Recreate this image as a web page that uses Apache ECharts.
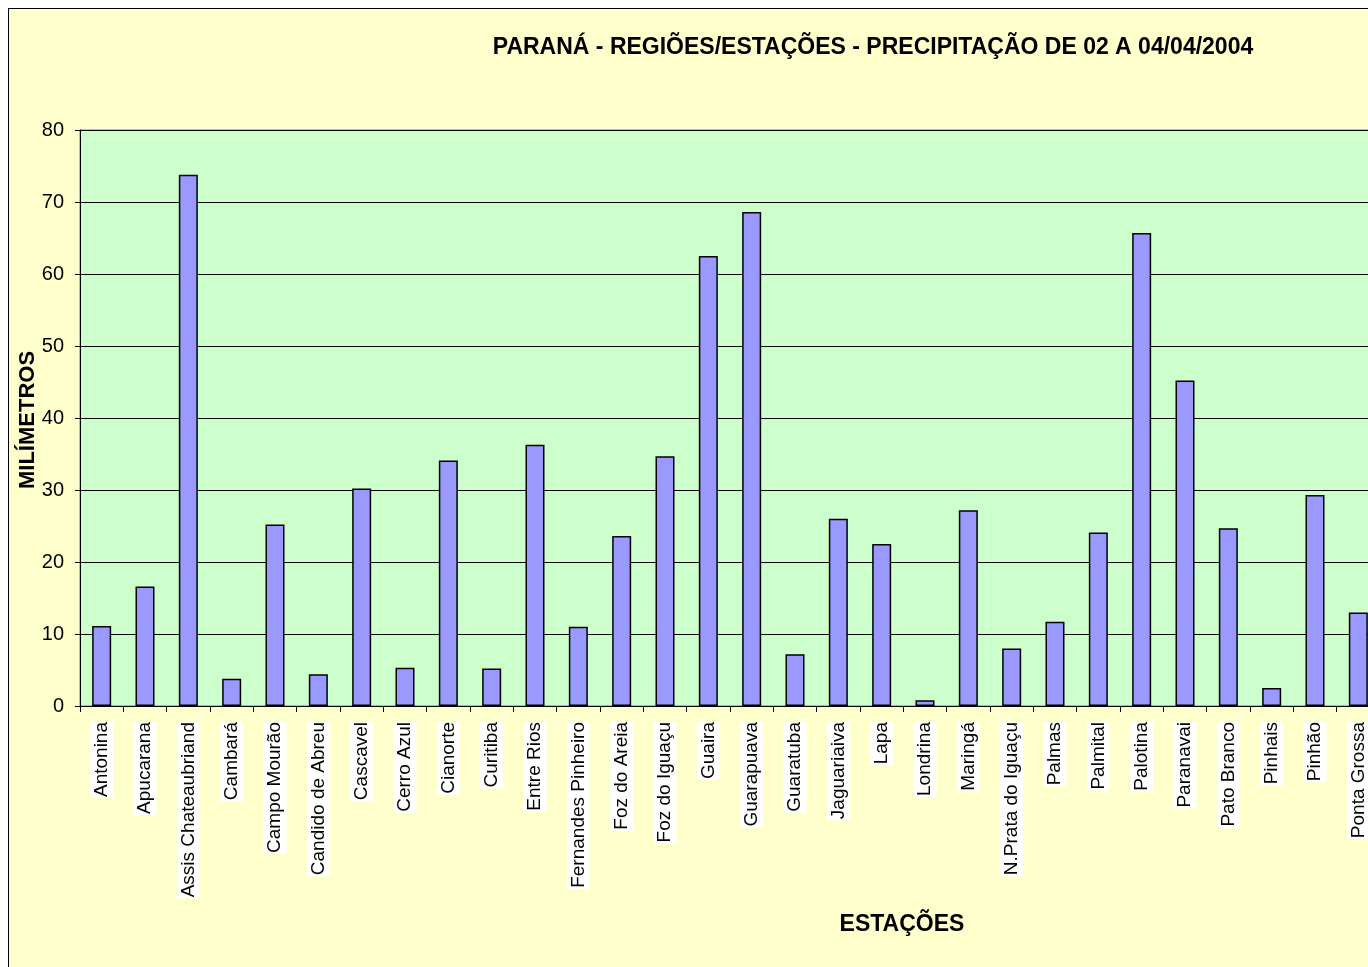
<!DOCTYPE html>
<html>
<head>
<meta charset="utf-8">
<script src="https://cdn.jsdelivr.net/npm/echarts@6/dist/echarts.min.js"></script>
<style>
  html, body { margin: 0; padding: 0; background: #ffffff; overflow: hidden; width: 1368px; height: 967px; }
  #frame { position: absolute; left: 8px; top: 8px; width: 1400px; height: 1000px; border: 1px solid #000; background: #FFFFCC; }
  #chart { width: 1400px; height: 1000px; }
</style>
</head>
<body>
<div id="frame"><div id="chart"></div></div>
<script>
const titleText = 'PARANÁ - REGIÕES/ESTAÇÕES - PRECIPITAÇÃO DE 02 A 04/04/2004';
const yAxisTitle = 'MILÍMETROS';
const xAxisTitle = 'ESTAÇÕES';
const stations = ['Antonina', 'Apucarana', 'Assis Chateaubriand', 'Cambará', 'Campo Mourão', 'Candido de Abreu',
  'Cascavel', 'Cerro Azul', 'Cianorte', 'Curitiba', 'Entre Rios', 'Fernandes Pinheiro', 'Foz do Areia',
  'Foz do Iguaçu', 'Guaira', 'Guarapuava', 'Guaratuba', 'Jaguariaiva', 'Lapa', 'Londrina', 'Maringá',
  'N.Prata do Iguaçu', 'Palmas', 'Palmital', 'Palotina', 'Paranavai', 'Pato Branco', 'Pinhais', 'Pinhão',
  'Ponta Grossa'];
const precipitation = [11.1, 16.6, 73.8, 3.8, 25.2, 4.4,
  30.2, 5.3, 34.1, 5.2, 36.3, 11.0, 23.6,
  34.7, 62.5, 68.6, 7.2, 26.0, 22.5, 0.8, 27.2,
  8.0, 11.7, 24.1, 65.7, 45.2, 24.7, 2.5, 29.3,
  13.0];
const yMin = 0, yMax = 80, yStep = 10;

const chart = echarts.init(document.getElementById('chart'), null, { renderer: 'canvas' });
const F = '"Liberation Sans", Arial, sans-serif';
chart.setOption({
  animation: false,
  backgroundColor: '#FFFFCC',
  grid: {
    left: 71, top: 121, height: 576, width: 1300,
    show: true, backgroundColor: '#CCFFCC', borderColor: '#808080', borderWidth: 1
  },
  xAxis: {
    type: 'category',
    data: stations,
    boundaryGap: true,
    axisLine: { show: true, lineStyle: { color: '#000', width: 1 } },
    axisTick: { show: true, interval: 0, length: 6, lineStyle: { color: '#000' } },
    axisLabel: {
      interval: 0, rotate: 90, margin: 16,
      color: '#000', fontFamily: F, fontSize: 19,
      backgroundColor: '#ffffff', padding: [2, 0, 2, 1]
    },
    splitLine: { show: false }
  },
  yAxis: {
    type: 'value',
    min: yMin, max: yMax, interval: yStep,
    axisLine: { show: true, lineStyle: { color: '#000', width: 1 } },
    axisTick: { show: true, length: 5, lineStyle: { color: '#000' } },
    axisLabel: { color: '#000', fontFamily: F, fontSize: 20, margin: 16 },
    splitLine: { show: true, lineStyle: { color: '#000', width: 1 } }
  },
  series: [{
    type: 'bar',
    data: precipitation,
    barWidth: 19,
    itemStyle: { color: '#9999FF', borderColor: '#000', borderWidth: 1.5 }
  }],
  graphic: [
    { type: 'text', x: 864, y: 39, style: { text: titleText, font: 'bold 23px ' + F, fill: '#000', align: 'center', verticalAlign: 'middle' } },
    { type: 'text', x: 19, y: 411, rotation: Math.PI / 2, style: { text: yAxisTitle, font: 'bold 22px ' + F, fill: '#000', align: 'center', verticalAlign: 'middle' } },
    { type: 'text', x: 893, y: 916, style: { text: xAxisTitle, font: 'bold 23px ' + F, fill: '#000', align: 'center', verticalAlign: 'middle' } }
  ]
});
</script>
</body>
</html>
